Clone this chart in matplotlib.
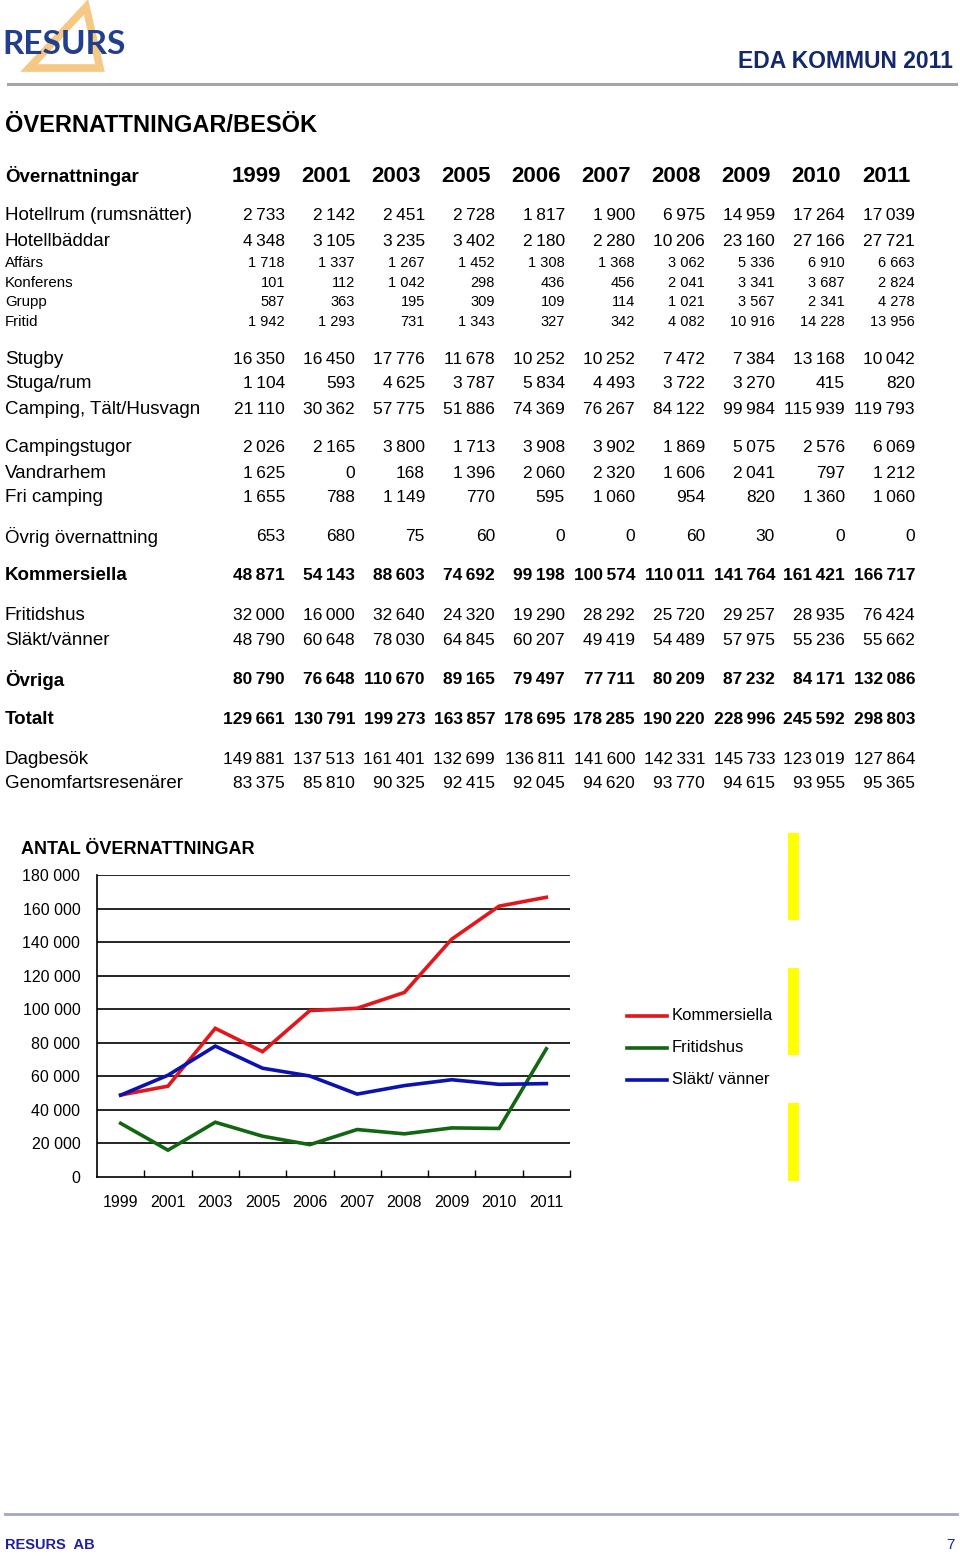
import matplotlib
matplotlib.use("Agg")
import matplotlib.pyplot as plt
from matplotlib.lines import Line2D
from matplotlib.patches import Polygon, Rectangle

# ---------------- data ----------------
years = [1999, 2001, 2003, 2005, 2006, 2007, 2008, 2009, 2010, 2011]

hotellrum = [2733, 2142, 2451, 2728, 1817, 1900, 6975, 14959, 17264, 17039]
hotellbaddar = [4348, 3105, 3235, 3402, 2180, 2280, 10206, 23160, 27166, 27721]
affars = [1718, 1337, 1267, 1452, 1308, 1368, 3062, 5336, 6910, 6663]
konferens = [101, 112, 1042, 298, 436, 456, 2041, 3341, 3687, 2824]
grupp = [587, 363, 195, 309, 109, 114, 1021, 3567, 2341, 4278]
fritid = [1942, 1293, 731, 1343, 327, 342, 4082, 10916, 14228, 13956]
stugby = [16350, 16450, 17776, 11678, 10252, 10252, 7472, 7384, 13168, 10042]
stuga_rum = [1104, 593, 4625, 3787, 5834, 4493, 3722, 3270, 415, 820]
camping = [21110, 30362, 57775, 51886, 74369, 76267, 84122, 99984, 115939, 119793]
campingstugor = [2026, 2165, 3800, 1713, 3908, 3902, 1869, 5075, 2576, 6069]
vandrarhem = [1625, 0, 168, 1396, 2060, 2320, 1606, 2041, 797, 1212]
fri_camping = [1655, 788, 1149, 770, 595, 1060, 954, 820, 1360, 1060]
ovrig = [653, 680, 75, 60, 0, 0, 60, 30, 0, 0]
kommersiella = [48871, 54143, 88603, 74692, 99198, 100574, 110011, 141764, 161421, 166717]
fritidshus = [32000, 16000, 32640, 24320, 19290, 28292, 25720, 29257, 28935, 76424]
slakt_vanner = [48790, 60648, 78030, 64845, 60207, 49419, 54489, 57975, 55236, 55662]
ovriga = [80790, 76648, 110670, 89165, 79497, 77711, 80209, 87232, 84171, 132086]
totalt = [129661, 130791, 199273, 163857, 178695, 178285, 190220, 228996, 245592, 298803]
dagbesok = [149881, 137513, 161401, 132699, 136811, 141600, 142331, 145733, 123019, 127864]
genomfart = [83375, 85810, 90325, 92415, 92045, 94620, 93770, 94615, 93955, 95365]

chart_title = "ANTAL ÖVERNATTNINGAR"
series_names = ["Kommersiella", "Fritidshus", "Släkt/ vänner"]
y_ticks = [0, 20000, 40000, 60000, 80000, 100000, 120000, 140000, 160000, 180000]

# ---------------- layout ----------------
W, H = 960, 1556
fig = plt.figure(figsize=(W / 100, H / 100), dpi=100)
FONT = "Liberation Sans"


def fx(x):
    return x / W


def fy(y):
    return 1 - y / H


def T(x, y, s, size, weight="normal", ha="left", color="black", family=FONT, va="center", z=3):
    fig.text(fx(x), fy(y), s, fontsize=size, fontweight=weight, ha=ha, va=va,
             color=color, family=family, zorder=z)


def fmt(v, sep):
    return f"{v:,}".replace(",", sep)


# header logo
tri = Polygon([[fx(29), fy(68)], [fx(86), fy(7)], [fx(100), fy(68)]], closed=True,
              fill=False, edgecolor="#F6C885", linewidth=5.5, transform=fig.transFigure,
              joinstyle="miter", zorder=0)
fig.add_artist(tri)
T(2, 45, "RESURS", 24, "bold", color="#213F8C", family="Lato", z=5)
fig.add_artist(Line2D([fx(8), fx(956)], [fy(84), fy(84)], color="#A6A6A6", lw=2.2,
                      transform=fig.transFigure))
T(953, 62, "EDA KOMMUN 2011", 16.5, "bold", ha="right", color="#13296B")

# title
T(5, 126, "ÖVERNATTNINGAR/BESÖK", 17, "bold")

# table header
T(5, 176, "Övernattningar", 13.5, "bold")
for i, yr in enumerate(years):
    T(256 + 70 * i, 176, str(yr), 16, "bold", ha="center")

big, small = 13, 10.5
THIN = "\u2009"
rows = [
    ("Hotellrum (rumsnätter)", hotellrum, 216, big, "normal", THIN),
    ("Hotellbäddar", hotellbaddar, 241, big, "normal", THIN),
    ("Affärs", affars, 263, small, "normal", " "),
    ("Konferens", konferens, 283, small, "normal", " "),
    ("Grupp", grupp, 302, small, "normal", " "),
    ("Fritid", fritid, 322, small, "normal", " "),
    ("Stugby", stugby, 359, big, "normal", THIN),
    ("Stuga/rum", stuga_rum, 384, big, "normal", THIN),
    ("Camping, Tält/Husvagn", camping, 409, big, "normal", THIN),
    ("Campingstugor", campingstugor, 448, big, "normal", THIN),
    ("Vandrarhem", vandrarhem, 473, big, "normal", THIN),
    ("Fri camping", fri_camping, 497, big, "normal", THIN),
    ("Övrig övernattning", ovrig, 537, big, "normal", THIN),
    ("Kommersiella", kommersiella, 576, big, "bold", THIN),
    ("Fritidshus", fritidshus, 616, big, "normal", THIN),
    ("Släkt/vänner", slakt_vanner, 640, big, "normal", THIN),
    ("Övriga", ovriga, 680, big, "bold", THIN),
    ("Totalt", totalt, 719, big, "bold", THIN),
    ("Dagbesök", dagbesok, 759, big, "normal", THIN),
    ("Genomfartsresenärer", genomfart, 783, big, "normal", THIN),
]
for label, vals, y, size, weight, sep in rows:
    T(5, y, label, size + (0.5 if size == big else 0.3), weight)
    for i, v in enumerate(vals):
        T(285 + 70 * i, y, fmt(v, sep), size - (0.5 if size == big else 0), weight, ha="right")

# chart
T(21, 850, chart_title, 13, "bold")
ax = fig.add_axes([fx(97), fy(1177), (570 - 97) / W, (1177 - 875) / H])
x = list(range(len(years)))
colors = ["#E3161B", "#126612", "#0C12B0"]
for vals, c, name in zip([kommersiella, fritidshus, slakt_vanner], colors, series_names):
    ax.plot(x, vals, color=c, lw=2.6, solid_joinstyle="miter", label=name)
ax.set_xlim(-0.5, len(years) - 0.5)
ax.set_ylim(0, 180000)
ax.set_yticks(y_ticks)
ax.set_yticklabels([fmt(v, " ") for v in y_ticks], fontsize=11.5, family=FONT)
ax.tick_params(axis="y", length=0, pad=12)
ax.set_xticks(x)
ax.set_xticklabels([str(y) for y in years], fontsize=11.5, family=FONT)
ax.tick_params(axis="x", which="major", length=0, pad=13)
ax.set_xticks([i + 0.5 for i in range(len(years))], minor=True)
ax.tick_params(axis="x", which="minor", direction="in", length=5, width=1, color="black")
for v in y_ticks[1:]:
    ax.axhline(v, color="black", lw=1.2, zorder=0)
for s in ["top", "right"]:
    ax.spines[s].set_visible(False)
for s in ["left", "bottom"]:
    ax.spines[s].set_color("black")
    ax.spines[s].set_linewidth(1.2)

# legend (manual)
for j, (name, c) in enumerate(zip(series_names, colors)):
    yy = 1016 + 32 * j
    fig.add_artist(Line2D([fx(627), fx(667)], [fy(yy), fy(yy)], color=c, lw=2.6,
                          transform=fig.transFigure))
    T(672, yy, name, 12)

# yellow bars
for y0, y1 in [(833, 920), (968, 1055), (1103, 1181)]:
    fig.add_artist(Rectangle((fx(788), fy(y1)), 11 / W, (y1 - y0) / H, color="#FFFF00",
                             transform=fig.transFigure, lw=0))

# footer
fig.add_artist(Line2D([fx(5), fx(957)], [fy(1514), fy(1514)], color="#A3A5C4", lw=2,
                      transform=fig.transFigure))
T(5, 1545, "RESURS  AB", 10.5, "bold", color="#1F1FA0")
T(955, 1545, "7", 11, "normal", ha="right", color="#1F1FA0")

fig.savefig("out.png", dpi=100)
